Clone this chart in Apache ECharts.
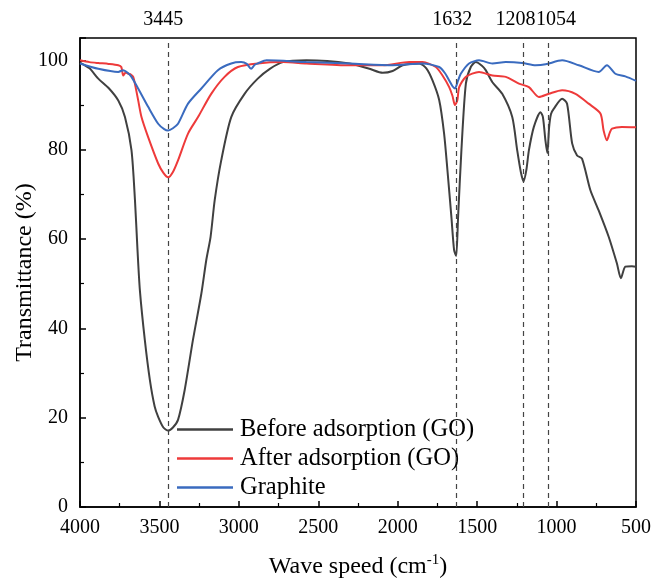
<!DOCTYPE html>
<html>
<head>
<meta charset="utf-8">
<script src="https://cdn.jsdelivr.net/npm/echarts@6/dist/echarts.min.js"></script>
<style>
  html, body { margin: 0; padding: 0; background: #fff; }
  #chart { width: 652px; height: 578px; }
</style>
</head>
<body>
<div id="chart"></div>
<script>
// FTIR spectra, [wavenumber, transmittance]
var beforeData = [
  [4000, 99.5], [3940, 98.2], [3885, 95.9], [3820, 93.8], [3759, 91], [3717, 87.3],
  [3676, 79.9], [3654, 68.7], [3638, 57.5], [3623, 48.5], [3592, 37.4], [3560, 28.4],
  [3530, 22.5], [3508, 20.2], [3475, 17.8], [3445, 17.1], [3415, 17.8], [3383, 19.5],
  [3341, 26.2], [3289, 37.4], [3236, 47.8], [3205, 55.3], [3178, 60.5], [3152, 68.7],
  [3111, 77.6], [3048, 87.3], [2964, 92.5], [2881, 95.9], [2805, 98.1], [2722, 99.6],
  [2575, 100], [2303, 99.3], [2178, 98.1], [2095, 97.2], [2032, 97.6], [1969, 98.9],
  [1864, 99.3], [1820, 98.2], [1781, 95.5], [1739, 91.1], [1708, 83.6], [1687, 75.4],
  [1662, 64.9], [1645, 57.5], [1632, 56.2], [1620, 64.9], [1599, 79.9], [1571, 94.8],
  [1540, 98.5], [1509, 99.6], [1470, 98.8], [1446, 97.8], [1404, 95.1], [1342, 92.5],
  [1279, 87.3], [1248, 79.9], [1225, 75], [1208, 72.9], [1190, 75.5], [1174, 79.9],
  [1143, 85.1], [1101, 88.4], [1086, 87.3], [1070, 82], [1058, 79.2], [1047, 85],
  [1035, 88], [1017, 89.2], [965, 91.4], [934, 90.3], [902, 81.4], [871, 78.7],
  [840, 78], [787, 70.9], [735, 66.4], [672, 60.5], [620, 54.5], [595, 51.2],
  [567, 53.8], [526, 53.9], [500, 53.8]
];
var afterData = [
  [4000, 100], [3940, 99.6], [3885, 99.4], [3820, 99.2], [3759, 98.9], [3740, 98.5],
  [3728, 96.6], [3712, 97.3], [3696, 97], [3680, 96.8], [3665, 96.3], [3650, 94],
  [3634, 91.1], [3613, 87.3], [3571, 82.8], [3508, 76.9], [3475, 74.8], [3445, 73.8],
  [3415, 75], [3383, 77.6], [3320, 83.6], [3257, 87.3], [3174, 92.5], [3090, 96.3],
  [3006, 98.5], [2881, 99.3], [2722, 99.6], [2575, 99.3], [2303, 98.9], [2095, 98.9],
  [1927, 99.6], [1844, 99.6], [1760, 98.5], [1718, 96.6], [1676, 94], [1655, 92],
  [1640, 90], [1625, 91], [1613, 94], [1571, 96.3], [1488, 97.4], [1404, 96.6],
  [1320, 96.3], [1237, 94.8], [1174, 94], [1111, 91.8], [1049, 92.5], [965, 93.3],
  [881, 92.5], [798, 90.3], [724, 88.1], [704, 84.3], [683, 82.1], [665, 83.8],
  [651, 84.7], [589, 85.1], [500, 85]
];
var graphiteData = [
  [4000, 99.3], [3885, 98.1], [3759, 97.4], [3728, 97.8], [3700, 97.2], [3676, 96.3],
  [3634, 93.7], [3571, 89.6], [3508, 85.8], [3470, 84.6], [3445, 84.3], [3415, 84.8],
  [3383, 85.8], [3320, 90.3], [3236, 93.7], [3132, 97.8], [3048, 99.3], [2985, 99.6],
  [2950, 99.2], [2923, 98.1], [2900, 99], [2881, 99.3], [2826, 100], [2575, 99.6],
  [2303, 99.3], [2032, 98.9], [1844, 99.3], [1739, 98.5], [1700, 97], [1676, 95.5],
  [1655, 94.2], [1640, 93.7], [1620, 95.5], [1603, 97], [1551, 99.3], [1488, 100],
  [1404, 99.3], [1320, 99.6], [1216, 99.4], [1132, 98.9], [1069, 99.1], [965, 100],
  [860, 98.9], [735, 97.4], [683, 98.9], [630, 97], [567, 96.4], [500, 95.4]
];
var peaks = [3445, 1632, 1208, 1054];
var seriesNames = ['Before adsorption (GO)', 'After adsorption (GO)', 'Graphite'];
var colors = ['#404040', '#ee3a3a', '#3a6bbf'];

var font = 'Liberation Serif';

var chart = echarts.init(document.getElementById('chart'));

function makeSeries(name, data, color) {
    return {
        name: name,
        type: 'line',
        data: data,
        symbol: 'none',
        smooth: 0.25,
        lineStyle: { color: color, width: 2 },
        itemStyle: { color: color }
    };
}

var series = [
    makeSeries(seriesNames[0], beforeData, colors[0]),
    makeSeries(seriesNames[1], afterData, colors[1]),
    makeSeries(seriesNames[2], graphiteData, colors[2])
];

// small horizontal nudges so neighbouring peak labels don't overlap
var peakPad = [[0, 10, 0, 0], [0, 8, 0, 0], [0, 16, 0, 0], [0, 0, 0, 16]];

series[0].markLine = {
    silent: true,
    symbol: 'none',
    lineStyle: { color: '#444', type: [5, 4], width: 1.2 },
    label: {
        position: 'end',
        distance: 8,
        color: '#000',
        fontFamily: font,
        fontSize: 20,
        formatter: '{c}'
    },
    data: peaks.map(function (p, i) {
        return { xAxis: p, label: { padding: peakPad[i] } };
    })
};

var option = {
    animation: false,
    backgroundColor: '#fff',
    textStyle: { fontFamily: font, color: '#000' },
    grid: {
        left: 80,
        right: 16,
        top: 38,
        bottom: 71,
        outerBoundsMode: 'none',
        show: true,
        borderColor: '#000',
        borderWidth: 1.5
    },
    legend: {
        orient: 'vertical',
        left: 172,
        top: 412,
        icon: 'rect',
        itemWidth: 56,
        itemHeight: 2.5,
        itemGap: 4,
        data: seriesNames,
        textStyle: { fontFamily: font, fontSize: 24.5, color: '#000', padding: [0, 0, 0, 2] }
    },
    xAxis: {
        type: 'value',
        inverse: true,
        min: 500,
        max: 4000,
        interval: 500,
        name: 'Wave speed (cm{sup|-1})',
        nameLocation: 'middle',
        nameGap: 46,
        nameMoveOverlap: false,
        nameTextStyle: {
            fontFamily: font,
            fontSize: 24,
            color: '#000',
            rich: {
                sup: { fontFamily: font, fontSize: 15, color: '#000', padding: [0, 0, 12, 0] }
            }
        },
        axisLine: { lineStyle: { color: '#000', width: 1.5 } },
        axisTick: { inside: true, length: 6, lineStyle: { color: '#000', width: 1.5 } },
        minorTick: { show: true, splitNumber: 2, length: 4, lineStyle: { color: '#000', width: 1.2 } },
        axisLabel: {
            fontFamily: font, fontSize: 20, color: '#000', margin: 11,
            formatter: function (v) { return String(v); }
        },
        splitLine: { show: false }
    },
    yAxis: {
        type: 'value',
        min: 0,
        max: 105,
        interval: 20,
        name: 'Transmittance (%)',
        nameLocation: 'middle',
        nameGap: 43,
        nameMoveOverlap: false,
        nameTextStyle: { fontFamily: font, fontSize: 24, color: '#000' },
        axisLine: { show: true, lineStyle: { color: '#000', width: 1.5 } },
        axisTick: { inside: true, length: 6, lineStyle: { color: '#000', width: 1.5 } },
        minorTick: { show: true, splitNumber: 2, length: 4, lineStyle: { color: '#000', width: 1.2 } },
        axisLabel: { fontFamily: font, fontSize: 20, color: '#000', margin: 12, showMaxLabel: false },
        splitLine: { show: false }
    },
    series: series
};

chart.setOption(option);
</script>
</body>
</html>
